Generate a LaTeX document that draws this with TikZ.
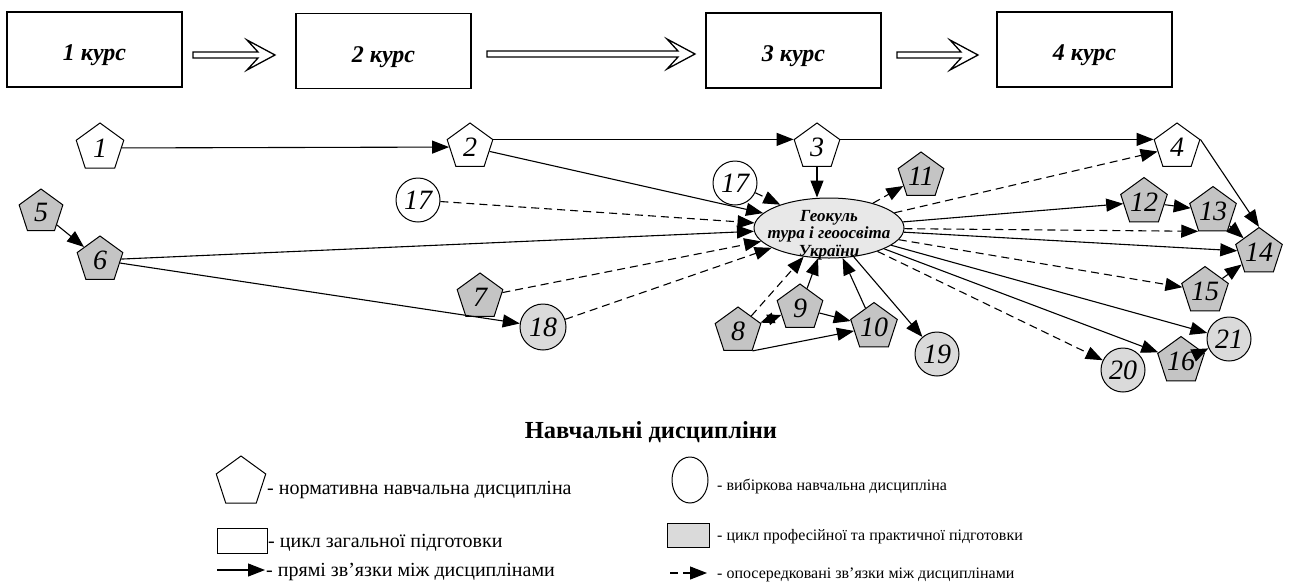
\documentclass[tikz,border=0pt]{standalone}
\usepackage{fontspec}
\setmainfont{Liberation Serif}
\usetikzlibrary{shapes.geometric,arrows.meta,calc}
\definecolor{pg}{RGB}{196,196,196}
\definecolor{cg}{RGB}{218,218,218}
\definecolor{eg}{RGB}{232,232,232}
\newcommand\hollowarr[2]{\draw[line width=1.3pt,line join=miter,fill=white] ($(#1)+(0,-3)$) -- ($(#2)+(-17,-3)$) -- ($(#2)+(-28,-15)$) -- (#2) -- ($(#2)+(-28,15)$) -- ($(#2)+(-17,3)$) -- ($(#1)+(0,3)$) -- cycle;}
\begin{document}
\begin{tikzpicture}[x=1pt,y=-1pt,
  pent/.style={regular polygon, regular polygon sides=5, draw, line width=1pt, minimum size=48pt, inner sep=0pt, font=\fontsize{28}{28}\selectfont\itshape},
  wpent/.style={pent, fill=white},
  gpent/.style={pent, fill=pg},
  circ/.style={circle, draw, line width=1pt, minimum size=44pt, inner sep=0pt, font=\fontsize{28}{28}\selectfont\itshape},
  wcirc/.style={circ, fill=white},
  gcirc/.style={circ, fill=cg},
  conn/.style={line width=1.1pt, -{Triangle[length=17pt,width=13pt]}},
  dconn/.style={conn, dash pattern=on 8pt off 5pt},
  biconn/.style={line width=1.1pt, {Triangle[length=14pt,width=11pt]}-{Triangle[length=14pt,width=11pt]}},
  course/.style={draw, line width=1.3pt, minimum width=175pt, minimum height=75pt, inner sep=0pt},
  coursetxt/.style={inner sep=0pt, font=\fontsize{24}{24}\selectfont\bfseries\itshape},
  legtxtL/.style={anchor=base west, inner sep=0pt, font=\fontsize{20}{20}\selectfont},
  legtxtR/.style={anchor=base west, inner sep=0pt, font=\fontsize{16}{16}\selectfont},
  etext/.style={align=center, inner sep=0pt, font=\fontsize{17}{17.5}\selectfont\bfseries\itshape}
]
\fill[white] (0,0) rectangle (1301,587);
\useasboundingbox (0,0) rectangle (1301,587);

% course boxes
\node[course] (B1) at (94.5,49.5) {};
\node[course] (B2) at (383.5,51) {};
\node[course] (B3) at (793.5,50.5) {};
\node[course] (B4) at (1084.5,49.5) {};
\node[coursetxt] (B1t) at ([yshift=-6pt]B1.center) {1 курс};
\node[coursetxt] (B2t) at ([yshift=-6pt]B2.center) {2 курс};
\node[coursetxt] (B3t) at ([yshift=-6pt]B3.center) {3 курс};
\node[coursetxt] (B4t) at ([yshift=-6pt]B4.center) {4 курс};
\coordinate (a1s) at (193,55); \coordinate (a1e) at (275,55);
\coordinate (a2s) at (487,54); \coordinate (a2e) at (695,54);
\coordinate (a3s) at (897,55); \coordinate (a3e) at (978,55);
\hollowarr{a1s}{a1e}
\hollowarr{a2s}{a2e}
\hollowarr{a3s}{a3e}

% central node
\node[ellipse, draw, line width=1pt, fill=eg, minimum width=150pt, minimum height=60pt, inner sep=0pt] (E) at (829,228) {};
\node[etext] (Et) at (829,235) {Геокуль\\тура і геоосвіта\\України};

% disciplines
\node[wpent, minimum size=50pt] (P1) at (100,148) {1};
\node[wpent] (P2) at (470,147) {2};
\node[wpent] (P3) at (817,147) {3};
\node[wpent] (P4) at (1177,147) {4};
\node[gpent, minimum size=46pt] (P5) at (41,212) {5};
\node[gpent] (P6) at (100,260) {6};
\node[gpent] (P7) at (480,297) {7};
\node[gpent] (P8) at (738,331) {8};
\node[gpent] (P9) at (800,308) {9};
\node[gpent] (P10) at (874,327) {10};
\node[gpent] (P11) at (921,176) {11};
\node[gpent] (P12) at (1144,202) {12};
\node[gpent] (P13) at (1213,211) {13};
\node[gpent] (P14) at (1259,252) {14};
\node[gpent] (P15) at (1205,291) {15};
\node[gpent] (P16) at (1181,361) {16};
\node[wcirc] (C17a) at (418,200) {17};
\node[wcirc] (C17b) at (735,183) {17};
\node[gcirc, minimum size=46pt] (C18) at (543,327) {18};
\node[gcirc] (C19) at (937,354) {19};
\node[gcirc] (C20) at (1123,370) {20};
\node[gcirc] (C21) at (1229,339) {21};

% connectors
\draw[conn] (P1) -- (P2);
\draw[conn] (P2.corner 5) -- (P3.corner 2);
\draw[conn] (P3.corner 5) -- (P4.corner 2);
\draw[conn] (P3.south) -- (P3.south |- E.north);
\draw[conn] (P2) -- (E);
\draw[conn] (P5) -- (P6);
\draw[conn] (P6) -- (E);
\draw[conn] (P6) -- (C18);
\draw[dconn] (C17a) -- (E);
\draw[dconn] (P7) -- (E);
\draw[dconn] (C18) -- (E);
\draw[dconn] (C17b) -- (E);
\draw[dconn] (P8) -- (E);
\draw[conn] (P9) -- (E);
\draw[conn] (P10) -- (E);
\draw[conn] (P9) -- (P10);
\draw[conn] (P8.corner 4) -- (P10);
\draw[biconn] (P8) -- (P9);
\draw[dconn] (E) -- (P11);
\draw[dconn] (E) -- (P4);
\draw[conn] (E) -- (P12);
\draw[dconn] (E) -- (P13.corner 3);
\draw[conn] (E) -- (P14);
\draw[dconn] (E) -- (P15);
\draw[conn] (E) -- (C21);
\draw[conn] (E) -- (P16);
\draw[dconn] (E) -- (C20);
\draw[conn] (E) -- (C19);
\draw[conn] (P12) -- (P13);
\draw[conn] (P13) -- (P14);
\draw[conn] (P4.corner 5) -- (P14.corner 1);
\draw[conn] (P15) -- (P14);
\draw[conn] (P16) -- (C21);

% legend
\node[font=\fontsize{24.5}{24.5}\selectfont\bfseries] (LT) at (651,432) {Навчальні дисципліни};
\node[regular polygon, regular polygon sides=5, draw, line width=1pt, minimum size=52pt, inner sep=0pt] (LP) at (241,482) {};
\node[legtxtL] (LPt) at (267,494) {- нормативна навчальна дисципліна};
\node[draw, line width=1pt, minimum width=50pt, minimum height=25pt, inner sep=0pt] (LR) at (242,540.5) {};
\node[legtxtL] (LRt) at (268,547) {- цикл загальної підготовки};
\coordinate (LA1) at (217,570); \coordinate (LA2) at (265,570);
\draw[conn] (LA1) -- (LA2);
\node[legtxtL] (LAt) at (266,576) {- прямі зв’язки між дисциплінами};
\node[ellipse, draw, line width=1pt, minimum width=36pt, minimum height=46pt, inner sep=0pt] (LC) at (690,480) {};
\node[legtxtR] (LCt) at (717,490) {- вибіркова навчальна дисципліна};
\node[draw, line width=1pt, fill=cg, minimum width=42pt, minimum height=24pt, inner sep=0pt] (LG) at (688,535) {};
\node[legtxtR] (LGt) at (717,540) {- цикл професійної та практичної підготовки};
\coordinate (LD1) at (670,573); \coordinate (LD2) at (707,573);
\draw[dconn] (LD1) -- (LD2);
\node[legtxtR] (LDt) at (717,578) {- опосередковані зв’язки між дисциплінами};
\end{tikzpicture}
\end{document}
